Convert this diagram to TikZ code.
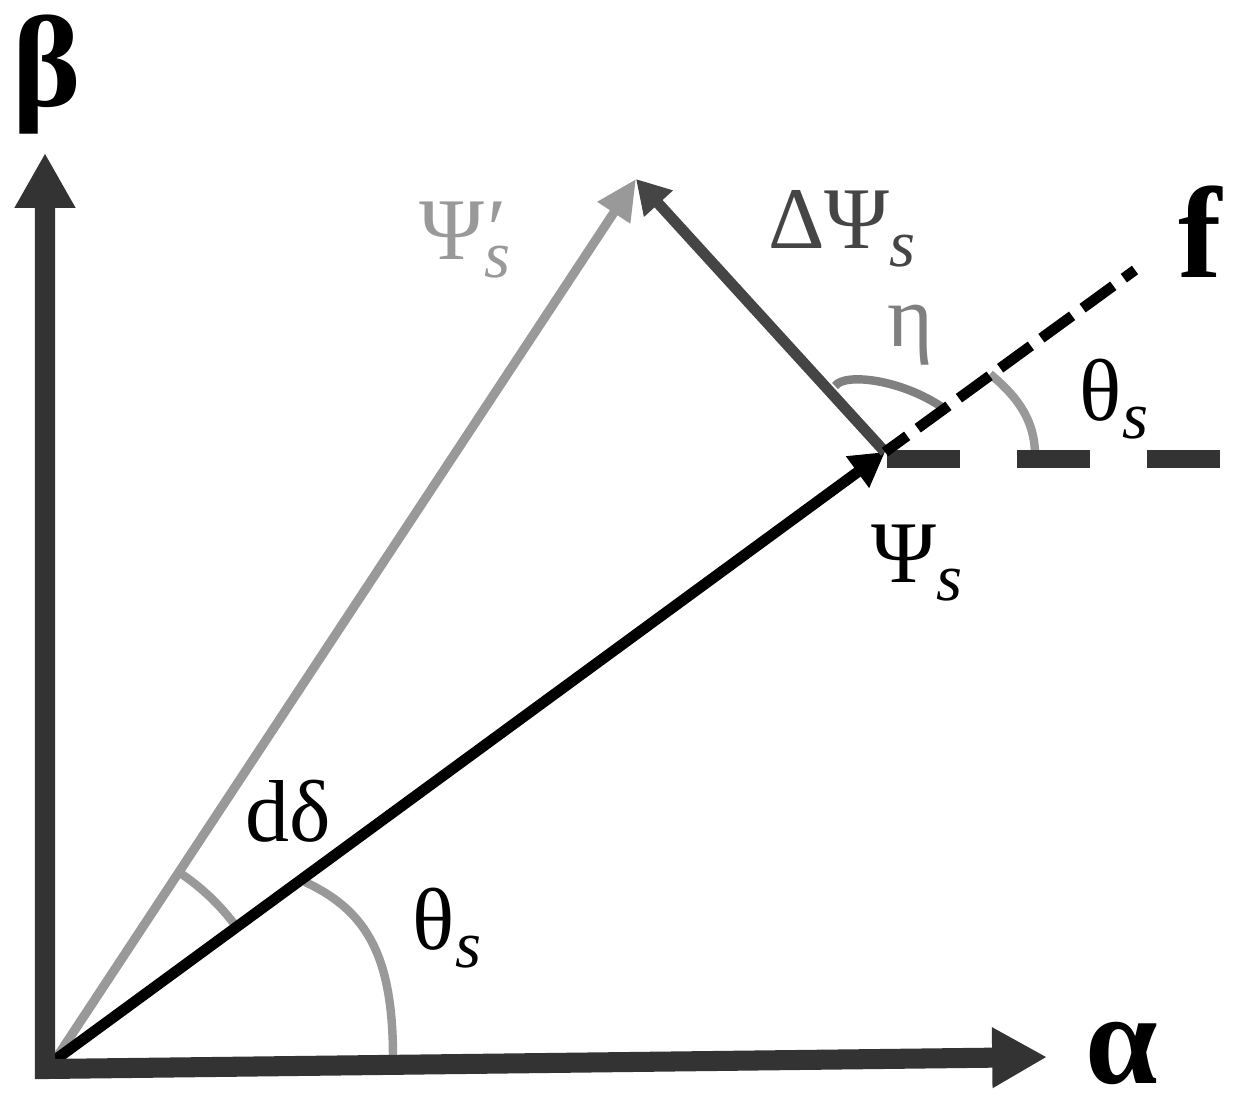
\documentclass[tikz,border=0pt]{standalone}
\usepackage{fontspec}
\setmainfont{Liberation Serif}
\usetikzlibrary{arrows.meta,calc}
\definecolor{axgray}{HTML}{333333}
\definecolor{vgray}{HTML}{999999}
\definecolor{dgray}{HTML}{454545}
\definecolor{egray}{HTML}{808080}
\newcommand\subs{\raisebox{-5pt}{\fontsize{19}{19}\selectfont\itshape s}}
\begin{document}
\begin{tikzpicture}[x=0.01cm,y=-0.01cm,
  axisline/.style={draw=axgray, line width=5.7pt, line join=miter,
    arrows={Triangle[length=15.6pt,width=16.2pt]-Triangle[length=15.6pt,width=16.2pt]}},
  vecblack/.style={draw=black, line width=3.1pt, arrows={-Triangle[length=9.7pt,width=10.5pt]}},
  vecgray/.style={draw=vgray, line width=2.6pt, arrows={-Triangle[length=11.5pt,width=10.5pt]}},
  vecdelta/.style={draw=dgray, line width=3.1pt, arrows={-Triangle[length=9.5pt,width=10.5pt]}},
  anglearc/.style={draw=vgray, line width=2.4pt},
  etaarc/.style={draw=egray, line width=2.4pt},
  hdash/.style={draw=axgray, line width=5.1pt, dash pattern=on 20.8pt off 16.2pt},
  fdash/.style={draw=black, line width=3pt, dash pattern=on 10.8pt off 3.7pt, dash phase=3pt},
  lbl/.style={font=\fontsize{25}{30}\selectfont, inner sep=0pt},
  boldlbl/.style={font=\fontsize{37}{40}\selectfont\bfseries, inner sep=0pt}]
\path[use as bounding box] (0,0) rectangle (1243,1112);

\coordinate (O) at (45,1069);
\coordinate (B) at (45,153);
\coordinate (A) at (1047,1057);
\coordinate (V) at (55,1060);
\coordinate (P) at (885,452);
\coordinate (Q) at (636,179);
\coordinate (F) at (1135,270);
\coordinate (H0) at (887,459);
\coordinate (H1) at (1223,459);

% angle arcs
\draw[anglearc] (393,1058) .. controls (393,958) and (368,911) .. (305,882);
\draw[anglearc] ($(V)+(-36.2:225)$) arc[start angle=-36.2, end angle=-56.6, radius=225];
\draw[etaarc] (835,386) .. controls (845,372) and (905,380) .. (946,410);
\draw[anglearc] (1035,455) .. controls (1035,417) and (1013,393) .. (990,374);

% horizontal dashed reference
\draw[hdash] (H0) -- (H1);

% vectors
\draw[vecgray] (V) -- (Q);
\draw[vecblack] (V) -- (P);
\draw[vecdelta] (P) -- (Q);
\draw[fdash] (P) -- (F);

% axes
\draw[axisline] (B) -- (O) -- (A);

% labels
\node[lbl, text=vgray] (lPsiP) at (465,240) {Ψ\rlap{\hspace{1pt}′}\subs};
\node[lbl, text=dgray] (lDelta) at (842,229) {ΔΨ\subs};
\node[lbl, text=egray] (lEta) at (910,335) {η};
\node[lbl] (lThetaR) at (1114,399) {θ\subs};
\node[lbl] (lPsi) at (917,563) {Ψ\subs};
\node[lbl] (lDd) at (288,811) {dδ};
\node[lbl] (lThetaO) at (447,928) {θ\subs};
\node[boldlbl] (lBeta) at (47,75) {β};
\node[boldlbl] (lAlpha) at (1122,1053) {α};
\node[boldlbl] (lF) at (1200,232) {f};
\end{tikzpicture}
\end{document}
